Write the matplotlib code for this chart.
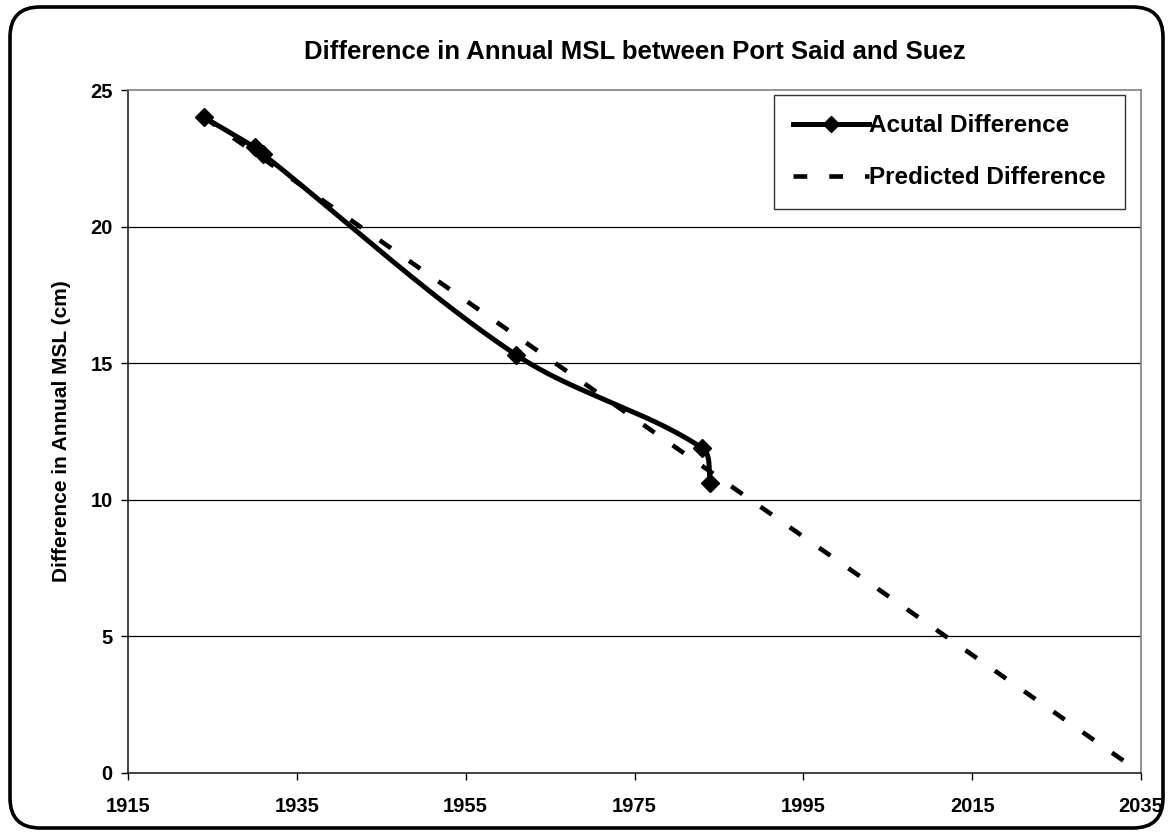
import numpy as np
import matplotlib
matplotlib.use("Agg")
import matplotlib.pyplot as plt
from matplotlib.patches import FancyBboxPatch

plt.rcParams['font.family'] = ['Liberation Sans', 'DejaVu Sans']
plt.rcParams['font.weight'] = 'bold'

# values
actual_years = [1924, 1930, 1931, 1961, 1983, 1984]
actual_diff = [24.0, 22.9, 22.65, 15.3, 11.9, 10.6]
pred_years = [1924, 2035]
pred_diff = [24.0, 0.0]
x_ticks = [1915, 1935, 1955, 1975, 1995, 2015, 2035]
y_ticks = [0, 5, 10, 15, 20, 25]

title = "Difference in Annual MSL between Port Said and Suez"
ylabel = "Difference in Annual MSL (cm)"


def smooth_line(ax, xs, ys, n=40):
    # excel-like smoothed line: bezier segments, tangents scaled by segment length
    pts = ax.transData.transform(np.column_stack([xs, ys]))
    out = [pts[0]]
    for i in range(len(pts) - 1):
        p1, p2 = pts[i], pts[i + 1]
        seg = np.hypot(*(p2 - p1))
        t1 = pts[i + 1] - pts[i - 1] if i > 0 else p2 - p1
        t2 = pts[i + 2] - pts[i] if i + 2 < len(pts) else p2 - p1
        t1 = t1 / np.hypot(*t1)
        t2 = t2 / np.hypot(*t2)
        c1 = p1 + t1 * seg / 3
        c2 = p2 - t2 * seg / 3
        t = np.linspace(0, 1, n)[1:, None]
        b = (1 - t) ** 3 * p1 + 3 * (1 - t) ** 2 * t * c1 + 3 * (1 - t) * t ** 2 * c2 + t ** 3 * p2
        out.extend(b)
    out = ax.transData.inverted().transform(np.array(out))
    return out[:, 0], out[:, 1]


fig = plt.figure(figsize=(11.69, 8.36), dpi=100)
ax = fig.add_axes([128 / 1169, 63 / 836, 1013 / 1169, 683 / 836])
ax.set_xlim(1915, 2035)
ax.set_ylim(0, 25)

for v in y_ticks[1:-1]:
    ax.axhline(v, color='black', lw=0.9, zorder=1)

ax.plot(pred_years, pred_diff, color='black', lw=3.3, ls=(0, (3.0, 4.8)),
        dash_capstyle='butt', zorder=3, label='Predicted Difference')

sx, sy = smooth_line(ax, actual_years, actual_diff)
ax.plot(sx, sy, color='black', lw=3.6, solid_capstyle='round', zorder=4)
ax.plot(actual_years, actual_diff, ls='none', marker='D', ms=9.5, color='black', zorder=5)
# legend handle only
ax.plot([], [], color='black', lw=3.6, marker='D', ms=8, label='Acutal Difference')

ax.set_xticks(x_ticks)
ax.set_yticks(y_ticks)
ax.tick_params(labelsize=14.5, length=5, width=1, color='black', pad=12)
ax.tick_params(axis='y', pad=6)
for lab in ax.get_xticklabels() + ax.get_yticklabels():
    lab.set_fontweight('bold')

for s in ['top', 'right']:
    ax.spines[s].set_color('#808080')
    ax.spines[s].set_linewidth(1.2)
for s in ['left', 'bottom']:
    ax.spines[s].set_color('#222222')
    ax.spines[s].set_linewidth(1.2)

ax.set_title(title, fontsize=18.5, fontweight='bold', pad=22)
ax.set_ylabel(ylabel, fontsize=15, fontweight='bold', labelpad=14)

h, l = ax.get_legend_handles_labels()
leg = ax.legend(h[::-1], l[::-1], loc='upper right', bbox_to_anchor=(0.984, 0.993),
                fontsize=17.5, frameon=True, fancybox=False, edgecolor='black',
                handlelength=3.1, handletextpad=0.0, labelspacing=1.2,
                borderpad=0.8, borderaxespad=0)
leg.get_frame().set_linewidth(1.0)
for t in leg.get_texts():
    t.set_fontweight('bold')

border = FancyBboxPatch((0.10, 0.08), 11.53, 8.21,
                        boxstyle="round,pad=0,rounding_size=0.3",
                        transform=fig.dpi_scale_trans, fill=False,
                        edgecolor='black', lw=2.6)
fig.patches.append(border)

fig.savefig("out.png", dpi=100)
